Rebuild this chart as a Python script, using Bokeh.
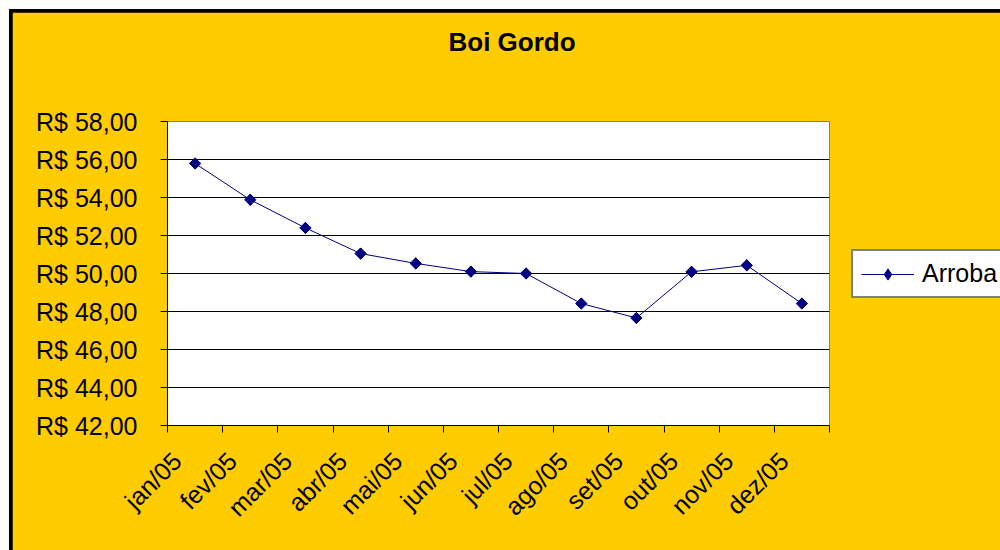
import math
from bokeh.plotting import figure
from bokeh.models import FixedTicker, Legend, LegendItem, Range1d, Title
from bokeh.embed import file_html
from bokeh.resources import INLINE

# ---- data ----
months = ["jan/05", "fev/05", "mar/05", "abr/05", "mai/05", "jun/05",
          "jul/05", "ago/05", "set/05", "out/05", "nov/05", "dez/05"]
arroba = [55.79, 53.88, 52.40, 51.05, 50.53, 50.10,
          50.00, 48.42, 47.66, 50.09, 50.43, 48.42]
y_ticks = [42, 44, 46, 48, 50, 52, 54, 56, 58]
y_tick_labels = ["R$ 42,00", "R$ 44,00", "R$ 46,00", "R$ 48,00", "R$ 50,00",
                 "R$ 52,00", "R$ 54,00", "R$ 56,00", "R$ 58,00"]
series_name = "Arroba"
title_text = "Boi Gordo"

# ---- layout constants ----
FONT = "Liberation Sans"
FW, FH = 662, 304
ML, MT, MR, MB = 155, 109, 171, 125
label_shift_px = 18.0

n = len(months)
x = [i + 0.5 for i in range(n)]
ymin, ymax = y_ticks[0], y_ticks[-1]
px_x = FW / n

p = figure(frame_width=FW, frame_height=FH, output_backend="svg",
           toolbar_location=None,
           x_range=Range1d(0, n), y_range=Range1d(ymin, ymax),
           min_border_left=ML, min_border_top=MT, min_border_right=MR,
           min_border_bottom=MB)
p.styles = {"border-left": "9px solid white", "border-top": "9px solid white",
            "padding-left": "3px", "padding-top": "3px",
            "background-color": "black"}
p.border_fill_color = "#FFCC00"
p.background_fill_color = "white"
p.outline_line_color = "#808080"
p.outline_line_width = 1

# spacer between title and plot area
spacer = Title(text=" ", text_font=FONT, text_font_size="26px", standoff=28)
p.add_layout(spacer, "above")

# title
p.title.text = title_text
p.title.align = "left"
p.title.offset = 281
p.title.standoff = 10
p.title.text_font = FONT
p.title.text_font_size = "26px"
p.title.text_font_style = "bold"
p.title.text_color = "black"

# grid
p.xgrid.visible = False
p.ygrid.ticker = FixedTicker(ticks=y_ticks[1:-1])
p.ygrid.grid_line_color = "black"
p.ygrid.grid_line_width = 1

# y axis
ya = p.yaxis[0]
ya.ticker = FixedTicker(ticks=y_ticks)
ya.major_label_overrides = dict(zip(y_ticks, y_tick_labels))
ya.major_tick_out = 7
ya.major_tick_in = 0
ya.minor_tick_out = 0
ya.minor_tick_in = 0
ya.major_label_standoff = 23
ya.major_label_text_font = FONT
ya.major_label_text_font_size = "25px"
ya.major_label_text_color = "black"
ya.axis_line_color = "black"
ya.major_tick_line_color = "black"

# x axis
shift = label_shift_px / px_x
label_pos = [xi - shift for xi in x]
xa = p.xaxis[0]
xa.ticker = FixedTicker(ticks=label_pos, minor_ticks=list(range(n + 1)))
xa.major_label_overrides = dict(zip(label_pos, months))
xa.major_label_orientation = math.pi / 4
xa.major_tick_out = 0
xa.major_tick_in = 0
xa.minor_tick_out = 7
xa.minor_tick_in = 0
xa.minor_tick_line_color = "black"
xa.major_label_standoff = 24
xa.major_label_text_font = FONT
xa.major_label_text_font_size = "25px"
xa.major_label_text_color = "black"
xa.axis_line_color = "black"

# series
r_line = p.line(x, arroba, line_color="#000080", line_width=1)
r_pts = p.scatter(x, arroba, marker="square", angle=math.pi / 4, size=8,
                  fill_color="#000080", line_color="#000080")
r_leg = p.scatter(x, arroba, marker="diamond", size=11,
                  fill_color="#000080", line_color="#000080")

# legend
legend = Legend(items=[LegendItem(label=series_name, renderers=[r_line, r_leg])],
                location=(22, 127), orientation="vertical")
legend.background_fill_color = "white"
legend.background_fill_alpha = 1
legend.border_line_color = "black"
legend.border_line_width = 2
legend.label_text_font = FONT
legend.label_text_font_size = "25px"
legend.label_text_color = "black"
legend.glyph_width = 53
legend.glyph_height = 28
legend.label_height = 28
legend.label_width = 90
legend.label_standoff = 8
legend.padding = 8
legend.margin = 0
legend.spacing = 0
p.add_layout(legend, "right")

open("out.html", "w").write(file_html(p, INLINE))
